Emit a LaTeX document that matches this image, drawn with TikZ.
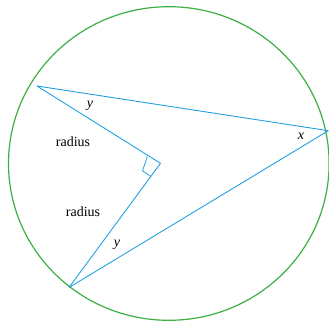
\documentclass[tikz,border=0pt]{standalone}
\usepackage{fontspec}
\setmainfont{Liberation Serif}
\usetikzlibrary{calc}
\definecolor{seg}{RGB}{35,160,225}
\definecolor{circ}{RGB}{60,175,70}
\begin{document}
\begin{tikzpicture}[x=1pt,y=-1pt,
  segline/.style={draw=seg,line width=0.9pt},
  lbl/.style={font=\fontsize{14}{16}\selectfont,inner sep=0pt},
  ang/.style={font=\fontsize{14}{16}\selectfont\itshape,inner sep=0pt}]
\useasboundingbox (0,0) rectangle (329,323);
\draw[circ,line width=1.2pt] (168.8,163.5) ellipse [x radius=160.3, y radius=156.8];
\coordinate (A) at (37,86);
\coordinate (B) at (328.3,130.7);
\coordinate (C) at (69,287.5);
\coordinate (O) at (160.5,163.3);
\draw[segline] (A) -- (B);
\draw[segline] (A) -- (O);
\draw[segline] (O) -- (C);
\draw[segline] (C) -- (B);
\coordinate (P1) at (147.3,156.5);
\coordinate (Q) at (142.5,170.8);
\coordinate (P2) at (150.8,176.5);
\draw[segline,line width=0.8pt] (P1) -- (Q) -- (P2);
\node[ang] (ya) at (90,106) {y};
\node[ang] (xb) at (301,136.5) {x};
\node[ang] (yc) at (117,245) {y};
\node[lbl] (r1) at (73,141.5) {radius};
\node[lbl] (r2) at (83,212) {radius};
\end{tikzpicture}
\end{document}
